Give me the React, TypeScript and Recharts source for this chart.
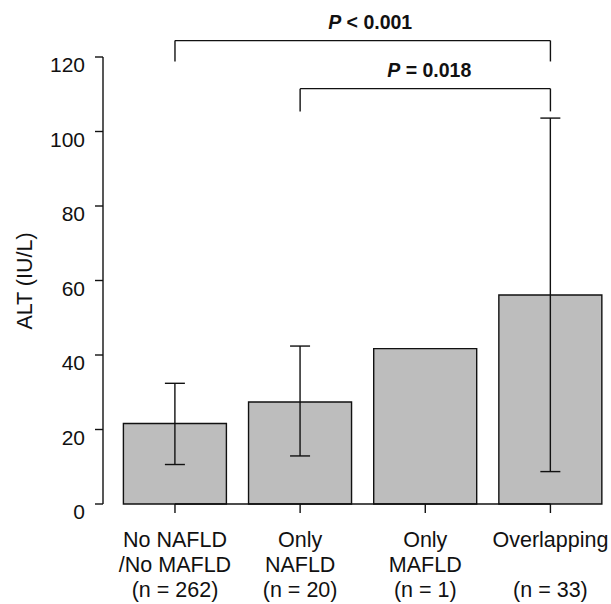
import { BarChart, Bar, XAxis, YAxis, ErrorBar, ReferenceLine } from "recharts";

const groups = ["No NAFLD\n/No MAFLD", "Only\nNAFLD", "Only\nMAFLD", "Overlapping\n"];
const counts = [262, 20, 1, 33];
const altMean = [21.6, 27.4, 41.7, 56.1];
const altLow: (number | null)[] = [10.6, 12.9, null, 8.7];
const altHigh: (number | null)[] = [32.4, 42.4, null, 103.6];
const yTicks = [0, 20, 40, 60, 80, 100, 120];

const FONT = "'Liberation Sans', Arial, Helvetica, sans-serif";

const data = groups.map((name, i) => ({
  name,
  alt: altMean[i],
  err:
    altLow[i] == null || altHigh[i] == null
      ? null
      : [altMean[i] - (altLow[i] as number), (altHigh[i] as number) - altMean[i]],
}));

function YTick(props: any) {
  const { x, y, payload } = props;
  return (
    <text x={x} y={y} dy={15} textAnchor="end" fontSize={21} fontFamily={FONT} fill="#111">
      {payload.value}
    </text>
  );
}

function XTick(props: any) {
  const { x, y, payload, index } = props;
  const lines = String(payload.value).split("\n");
  lines.push(`(n = ${counts[index]})`);
  return (
    <text x={x} y={y} textAnchor="middle" fontSize={21.5} fontFamily={FONT} fill="#111">
      {lines.map((l, i) => (
        <tspan key={i} x={x} y={y + 32 + i * 25}>
          {l}
        </tspan>
      ))}
    </text>
  );
}

// p-value text above a bracket
function PLabel(props: any) {
  const { viewBox, text, shift } = props;
  const cx = viewBox.x + viewBox.width / 2 + shift;
  return (
    <text x={cx} y={viewBox.y - 11.5} textAnchor="middle" fontSize={19.5} fontWeight="bold" fontFamily={FONT} fill="#111">
      <tspan fontStyle="italic">P</tspan>
      <tspan>{text}</tspan>
    </text>
  );
}

function YLabel() {
  return (
    <text x={32} y={281} transform="rotate(-90, 32, 281)" textAnchor="middle" fontSize={21.5} fontFamily={FONT} fill="#111">
      ALT (IU/L)
    </text>
  );
}

const lineStyle = { stroke: "#111", strokeWidth: 1.4 };

export default function App() {
  return (
    <div style={{ position: "absolute", left: 0, top: 0, background: "#fff" }}>
      <BarChart width={611} height={604} data={data} margin={{ top: 57, right: -2, bottom: 0, left: 0 }}>
        <XAxis
          dataKey="name"
          height={100}
          interval={0}
          axisLine={false}
          tickSize={9}
          tickLine={lineStyle}
          padding={{ left: 9.4, right: 0 }}
          tick={<XTick />}
        />
        <YAxis
          width={103}
          domain={[0, 120]}
          ticks={yTicks}
          interval={0}
          tickSize={8}
          tickMargin={10}
          axisLine={lineStyle}
          tickLine={lineStyle}
          tick={<YTick />}
          label={<YLabel />}
        />
        <ReferenceLine segment={[{ x: groups[0], y: 0 }, { x: groups[3], y: 0 }]} {...lineStyle} />
        <Bar dataKey="alt" barSize={103} fill="#bdbdbd" stroke="#111" strokeWidth={1.4} isAnimationActive={false}>
          <ErrorBar dataKey="err" width={10} stroke="#111" strokeWidth={1.4} direction="y" />
        </Bar>
        {/* brackets */}
        <ReferenceLine
          segment={[{ x: groups[0], y: 124.4 }, { x: groups[3], y: 124.4 }]}
          ifOverflow="visible"
          {...lineStyle}
          label={<PLabel text=" < 0.001" shift={7.5} />}
        />
        <ReferenceLine segment={[{ x: groups[0], y: 124.4 }, { x: groups[0], y: 118.8 }]} ifOverflow="visible" {...lineStyle} />
        <ReferenceLine segment={[{ x: groups[3], y: 124.4 }, { x: groups[3], y: 118.8 }]} ifOverflow="visible" {...lineStyle} />
        <ReferenceLine
          segment={[{ x: groups[1], y: 111.5 }, { x: groups[3], y: 111.5 }]}
          ifOverflow="visible"
          {...lineStyle}
          label={<PLabel text=" = 0.018" shift={4} />}
        />
        <ReferenceLine segment={[{ x: groups[1], y: 111.5 }, { x: groups[1], y: 105.4 }]} ifOverflow="visible" {...lineStyle} />
        <ReferenceLine segment={[{ x: groups[3], y: 111.5 }, { x: groups[3], y: 105.4 }]} ifOverflow="visible" {...lineStyle} />
      </BarChart>
    </div>
  );
}
